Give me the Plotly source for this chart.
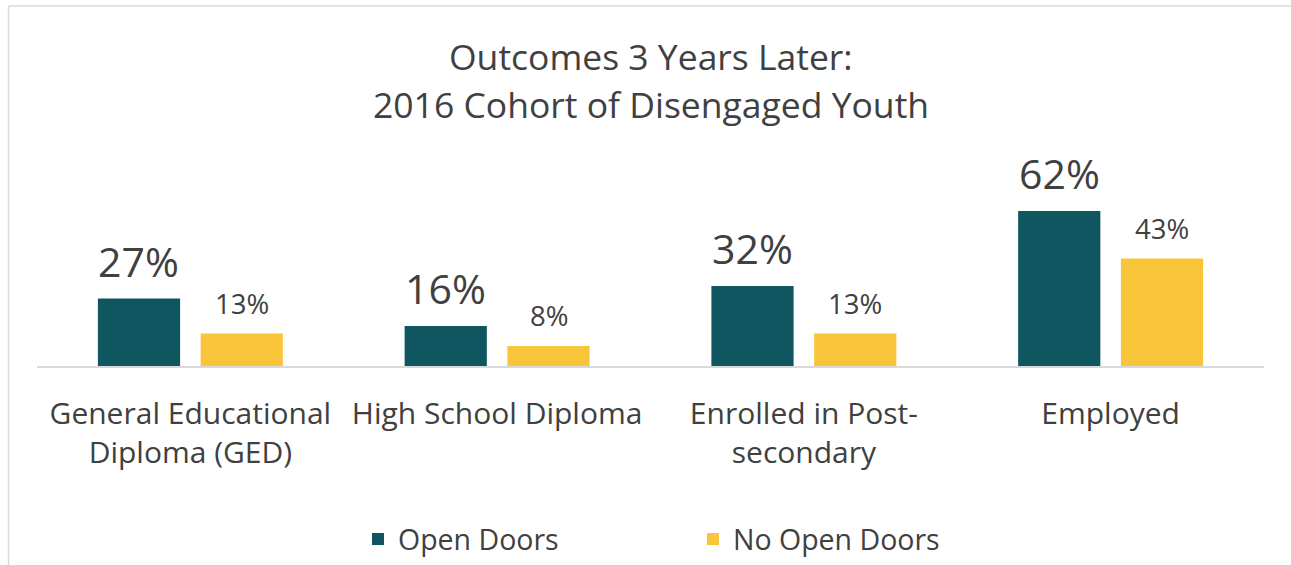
import plotly.graph_objects as go

categories = ["General Educational<br>Diploma (GED)", "High School Diploma",
              "Enrolled in Post-<br>secondary", "Employed"]
open_doors = [27, 16, 32, 62]
no_open_doors = [13, 8, 13, 43]
series_names = ["Open Doors", "No Open Doors"]
title_lines = ["Outcomes 3 Years Later:", "2016 Cohort of Disengaged Youth"]
colors = ["#0F5660", "#F9C53A"]

W, H = 1291, 565
L, R, T, B = 37, 27, 150, 199
pw, ph = W - L - R, H - T - B
ymax = ph / 2.5

FONT = "Open Sans"
GREY = "#404040"

fig = go.Figure()
for name, vals, col in zip(series_names, [open_doors, no_open_doors], colors):
    fig.add_trace(go.Bar(x=categories, y=vals, name=name, marker_color=col,
                         marker_line_width=0))

bargap, groupgap = 0.33, 0.2
slot = pw / len(categories) * (1 - bargap) / 2


def px_x(p):
    return (p - L) / pw


def px_y(p):
    return (H - B - p) / ph


annotations = []
for i, c in enumerate(categories):
    annotations.append(dict(x=c, y=open_doors[i], text=f"{open_doors[i]}%", showarrow=False,
                            xshift=-slot / 2, yanchor="bottom", yshift=8,
                            font=dict(size=41, color=GREY, family=FONT)))
    annotations.append(dict(x=c, y=no_open_doors[i], text=f"{no_open_doors[i]}%", showarrow=False,
                            xshift=slot / 2, yanchor="bottom", yshift=10,
                            font=dict(size=27.5, color=GREY, family=FONT)))
for line, ypx in zip(title_lines, [56, 104]):
    annotations.append(dict(xref="paper", yref="paper", x=px_x(651), y=px_y(ypx),
                            xanchor="center", yanchor="middle", text=line, showarrow=False,
                            font=dict(size=35.5, color=GREY, family=FONT)))

shapes = [
    dict(type="line", xref="paper", yref="paper", x0=px_x(8.5), x1=px_x(1291), y0=px_y(6), y1=px_y(6),
         line=dict(color="#D9D9D9", width=1.5)),
    dict(type="line", xref="paper", yref="paper", x0=px_x(8.5), x1=px_x(8.5), y0=px_y(6), y1=px_y(565),
         line=dict(color="#D9D9D9", width=1.5)),
]

fig.update_layout(
    width=W, height=H,
    margin=dict(l=L, r=R, t=T, b=B, autoexpand=False),
    paper_bgcolor="white", plot_bgcolor="white",
    barmode="group", bargap=bargap, bargroupgap=groupgap,
    font=dict(family=FONT, color=GREY),
    xaxis=dict(showgrid=False, showline=True, linecolor="#D9D9D9", linewidth=1.5,
               tickfont=dict(size=30, color=GREY, family=FONT), ticks="",
               ticklabelstandoff=20, automargin=False),
    yaxis=dict(range=[0, ymax], visible=False, automargin=False),
    legend=dict(orientation="h", x=px_x(358), xanchor="left", y=px_y(514), yanchor="top",
                font=dict(size=28.5, color=GREY, family=FONT), entrywidth=290,
                entrywidthmode="pixels"),
    annotations=annotations,
    shapes=shapes,
)

fig.write_html("out.html", config={"displayModeBar": False},
               post_script="document.body.style.margin='0';document.body.style.overflow='hidden';")
